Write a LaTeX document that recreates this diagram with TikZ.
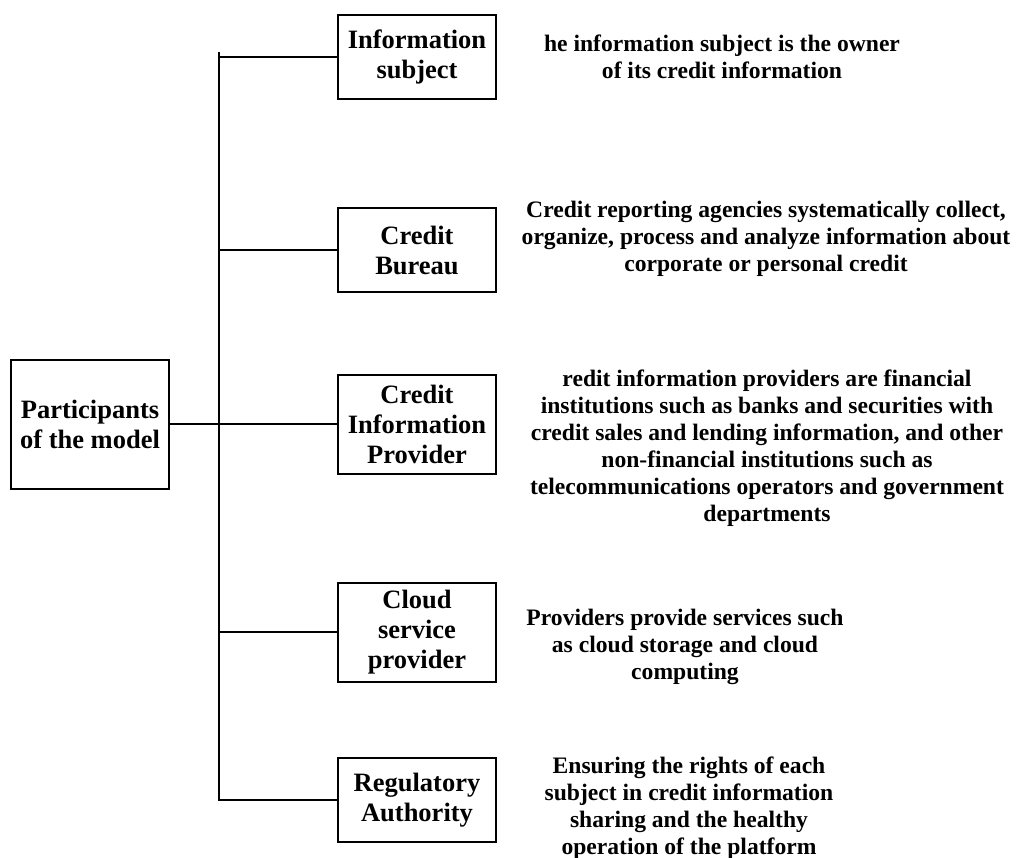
\documentclass[tikz,border=0pt]{standalone}
\usepackage{fontspec}
\setmainfont{Liberation Serif}
\begin{document}
\begin{tikzpicture}[x=1pt,y=-1pt,
  box/.style={draw=black,line width=2pt,minimum width=158pt,inner sep=0pt,align=center,
    font=\fontsize{26.5}{30}\selectfont\bfseries},
  desc/.style={align=center,inner sep=0pt,font=\fontsize{23.6}{27}\selectfont\bfseries},
  conn/.style={draw=black,line width=2pt}]
\useasboundingbox (0,0) rectangle (1016,857);
% boxes
\node[box,minimum height=129pt] (p) at (90,424) {Participants\\of the model};
\node[box,minimum height=84pt] (b1) at (417,57) {Information\\subject};
\node[box,minimum height=84pt] (b2) at (417,250) {Credit\\Bureau};
\node[box,minimum height=99pt] (b3) at (417,424) {Credit\\Information\\Provider};
\node[box,minimum height=99pt] (b4) at (417,632) {Cloud\\service\\provider};
\node[box,minimum height=84pt] (b5) at (417,800) {Regulatory\\Authority};
% trunk
\coordinate (top) at (219,52);
\draw[conn] (top) |- (b5.west);
\draw[conn] (b1.west) -- (b1.west -| top);
\draw[conn] (b2.west) -- (b2.west -| top);
\draw[conn] (p.east) -- (b3.west);
\draw[conn] (b4.west) -- (b4.west -| top);
% descriptions
\node[desc] (d1) at (722,57) {he information subject is the owner\\of its credit information};
\node[desc] (d2) at (766,239) {Credit reporting agencies systematically collect,\\organize, process and analyze information about\\corporate or personal credit};
\node[desc] (d3) at (767,448) {redit information providers are financial\\institutions such as banks and securities with\\credit sales and lending information, and other\\non-financial institutions such as\\telecommunications operators and government\\departments};
\node[desc] (d4) at (685,647) {Providers provide services such\\as cloud storage and cloud\\computing};
\node[desc] (d5) at (689,808) {Ensuring the rights of each\\subject in credit information\\sharing and the healthy\\operation of the platform};
\end{tikzpicture}
\end{document}
